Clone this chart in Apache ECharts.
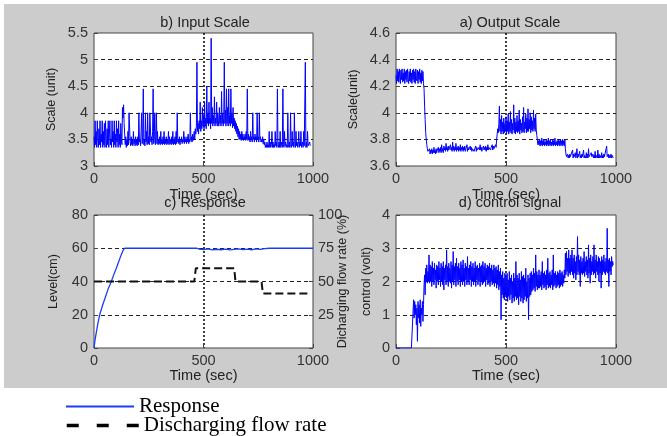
<!DOCTYPE html>
<html><head><meta charset="utf-8">
<script src="https://cdn.jsdelivr.net/npm/echarts@6/dist/echarts.min.js"></script>
<style>html,body{margin:0;padding:0;background:#fff}#c{width:667px;height:436px}</style>
</head><body><div id="c"></div>
<script>
// sampling step of the recorded signals (sec)
const STEP = 2.5;
const xTicks = [0, 500, 1000];

// b) Input Scale (unit), t = 0,2.5,...,987.5
const inputScale = [
 3.55,3.35,3.85,3.4,3.65,3.35,3.85,3.5,3.35,3.7,3.4,3.85,3.35,3.6,3.45,3.85,3.35,3.65,3.4,3.8,
 3.35,3.85,3.5,3.35,3.7,3.4,3.85,3.35,3.6,3.85,3.4,3.5,3.35,3.85,3.45,3.65,3.35,3.85,3.4,3.6,
 3.35,3.85,3.45,3.7,3.35,3.85,3.4,3.6,3.35,3.8,3.5,3.4,4.1,3.9,4.15,3.8,3.6,3.4,3.55,3.35,
 3.5,3.38,3.65,3.4,4.0,4.0,3.45,3.38,3.55,3.4,3.5,3.38,3.65,3.42,3.5,3.38,3.55,3.4,3.5,3.38,
 3.55,3.4,4.0,3.45,3.5,3.38,3.65,4.0,3.42,3.55,4.45,3.4,3.5,3.38,4.0,3.45,3.65,3.4,4.0,3.42,
 3.55,3.4,4.0,4.0,3.45,3.55,3.4,3.65,4.45,3.42,3.5,4.0,3.4,3.55,4.0,3.42,3.65,3.4,3.5,3.42,
 3.55,3.4,3.65,3.42,3.5,3.4,3.55,3.42,3.65,3.4,3.5,3.42,3.55,3.4,3.5,3.42,3.65,3.4,3.55,3.42,
 3.5,3.4,3.55,3.42,3.65,3.4,3.5,3.42,3.55,3.4,3.65,3.42,4.0,3.45,3.5,3.42,3.55,3.4,3.5,3.45,
 3.55,3.42,3.5,3.45,3.65,3.42,3.55,3.45,3.5,3.42,3.55,3.45,3.6,3.42,3.5,3.45,4.0,3.48,3.55,3.45,
 3.6,3.48,3.55,3.65,3.5,3.7,3.6,3.75,4.95,3.65,3.8,3.6,3.85,3.7,4.2,3.65,3.85,3.7,4.1,3.75,
 3.95,3.7,4.2,3.75,3.9,3.7,4.5,3.8,4.0,3.75,4.2,3.8,3.9,3.7,5.4,3.8,4.1,3.75,3.95,3.8,
 4.3,3.75,3.9,3.8,4.2,3.75,4.0,3.85,3.75,4.1,3.8,3.95,3.75,4.4,3.8,4.0,3.75,3.9,4.95,3.8,
 4.05,3.75,4.45,3.8,4.1,3.75,4.45,3.8,3.95,3.75,4.45,3.8,4.0,3.72,4.1,3.75,3.9,3.7,3.85,3.65,
 3.8,3.6,3.75,3.55,3.7,3.5,3.65,3.5,3.6,3.48,3.65,3.5,3.6,3.48,3.55,3.5,3.6,3.48,3.65,3.5,
 4.45,3.48,3.6,3.5,3.55,3.45,3.65,3.5,3.55,3.45,4.0,3.5,3.55,3.45,3.6,3.5,3.55,3.45,4.0,3.5,
 3.55,3.45,4.0,3.5,3.55,3.45,3.5,3.45,3.55,3.42,3.5,3.4,3.45,3.35,3.4,3.35,3.45,3.35,3.4,3.35,
 3.65,3.35,3.45,3.35,3.4,3.65,3.35,3.45,3.35,3.4,3.35,3.65,3.38,3.45,3.35,4.45,3.4,3.35,3.45,3.35,
 3.65,3.35,3.4,3.45,3.35,4.45,3.4,3.35,3.65,3.38,3.45,3.35,3.4,3.35,4.0,3.4,3.35,3.45,3.35,4.0,
 3.4,3.35,3.65,3.38,3.45,3.35,4.0,3.4,3.35,3.65,3.38,3.45,3.35,3.4,3.65,3.35,3.45,3.38,3.65,3.35,
 3.4,3.45,3.35,3.65,3.38,3.4,4.95,3.35,3.45,3.35,3.65,3.38,3.4,3.35,3.45,3.38
];

// a) Output Scale (unit), t = 0,2.5,...,987.5
const outputScale = [
 4.28,4.22,4.33,4.24,4.31,4.23,4.33,4.26,4.22,4.32,4.25,4.33,4.23,4.30,4.24,4.33,4.22,4.31,4.25,4.32,
 4.23,4.33,4.26,4.22,4.31,4.24,4.33,4.23,4.30,4.22,4.32,4.25,4.33,4.23,4.31,4.22,4.33,4.26,4.24,4.32,
 4.22,4.31,4.25,4.33,4.23,4.30,4.22,4.32,4.24,4.31,4.22,4.18,4.05,3.95,3.85,3.80,3.76,3.73,3.71,3.72,
 3.70,3.73,3.69,3.72,3.70,3.73,3.69,3.72,3.70,3.74,3.70,3.72,3.69,3.73,3.70,3.72,3.71,3.74,3.70,3.73,
 3.71,3.74,3.70,3.76,3.71,3.73,3.70,3.75,3.72,3.74,3.71,3.77,3.72,3.74,3.71,3.75,3.72,3.73,3.71,3.76,
 3.72,3.74,3.71,3.78,3.72,3.75,3.71,3.74,3.72,3.77,3.71,3.74,3.72,3.75,3.71,3.74,3.72,3.76,3.71,3.74,
 3.72,3.75,3.71,3.74,3.72,3.75,3.71,3.73,3.72,3.76,3.71,3.74,3.72,3.73,3.71,3.75,3.72,3.74,3.71,3.73,
 3.72,3.74,3.71,3.73,3.72,3.75,3.71,3.74,3.72,3.73,3.71,3.74,3.72,3.76,3.72,3.74,3.71,3.73,3.72,3.75,
 3.72,3.74,3.72,3.75,3.71,3.74,3.72,3.76,3.72,3.74,3.73,3.75,3.72,3.74,3.73,3.76,3.72,3.75,3.73,3.74,
 3.73,3.76,3.74,3.80,3.84,3.88,3.85,3.92,4.05,3.86,3.95,3.84,3.98,3.86,3.93,3.84,3.96,3.85,3.92,3.86,
 3.97,3.84,3.94,3.86,3.99,3.84,3.93,3.86,4.01,3.85,3.95,3.84,3.92,3.87,4.06,3.85,3.96,3.84,3.93,3.86,
 3.98,3.85,3.94,3.86,4.02,3.84,3.95,3.87,3.92,3.85,3.97,3.86,4.04,3.85,3.93,3.88,3.99,3.85,3.96,3.86,
 4.03,3.86,3.95,3.88,4.00,3.85,3.97,3.87,3.94,3.86,4.02,3.88,3.96,3.86,3.99,3.87,3.83,3.80,3.76,3.79,
 3.76,3.80,3.75,3.79,3.76,3.81,3.75,3.79,3.76,3.80,3.75,3.78,3.76,3.80,3.75,3.79,3.76,3.81,3.75,3.79,
 3.76,3.80,3.75,3.78,3.76,3.80,3.75,3.79,3.76,3.81,3.75,3.78,3.76,3.79,3.75,3.80,3.76,3.79,3.75,3.80,
 3.76,3.79,3.75,3.80,3.76,3.79,3.75,3.80,3.73,3.69,3.67,3.66,3.69,3.66,3.68,3.66,3.69,3.67,3.66,3.68,
 3.66,3.72,3.66,3.69,3.67,3.66,3.70,3.66,3.68,3.73,3.66,3.69,3.67,3.66,3.71,3.66,3.68,3.66,3.69,3.67,
 3.66,3.72,3.66,3.68,3.67,3.66,3.70,3.66,3.69,3.66,3.73,3.67,3.66,3.68,3.66,3.70,3.67,3.66,3.69,3.66,
 3.68,3.66,3.71,3.66,3.68,3.67,3.66,3.72,3.66,3.69,3.66,3.68,3.67,3.66,3.70,3.66,3.68,3.66,3.69,3.67,
 3.66,3.68,3.66,3.75,3.67,3.66,3.69,3.66,3.68,3.66,3.67,3.69,3.66,3.68,3.67,3.66
];

// d) control signal (volt), t = 0,2.5,...,987.5
const controlSignal = [
 0,0,0,0,0,0,0,0,0,0,0,0,0,0,0,0,0,0,0,0,
 0,0,0,0,0,0,0,0,0,0,0,0,1.45,0.9,1.4,1.0,1.3,0.7,1.2,0.2,
 1.4,0.9,1.3,0.75,1.45,0.65,1.2,1.0,1.4,0.8,1.3,1.9,2.2,1.6,2.4,2.0,2.5,1.95,2.3,2.0,
 2.8,1.95,2.5,2.0,2.45,1.85,2.6,2.0,2.4,1.9,2.55,2.05,2.35,1.8,2.5,2.0,2.45,1.9,2.6,2.05,
 2.4,1.85,2.55,2.0,2.45,1.9,2.6,1.75,2.4,2.05,2.5,1.9,2.95,2.0,2.45,1.85,2.55,2.0,2.4,1.95,
 2.6,1.8,2.5,2.0,2.9,1.9,2.45,2.05,2.55,1.85,2.7,2.0,2.45,1.9,2.55,2.05,2.4,1.85,2.6,2.0,
 2.5,1.9,2.65,2.0,2.4,1.85,2.55,2.05,2.45,1.9,2.75,2.0,2.4,1.9,2.5,2.05,2.6,1.85,2.45,2.0,
 2.55,1.9,2.4,2.0,2.6,1.85,2.45,2.05,2.5,1.9,2.4,2.0,2.55,1.85,2.45,2.0,2.5,1.9,2.6,1.95,
 2.45,2.0,2.55,1.85,2.4,2.05,2.5,1.9,2.45,1.95,2.55,1.85,2.4,2.0,2.5,1.9,2.35,1.95,2.5,1.85,
 2.4,1.95,2.45,1.8,2.35,1.9,2.5,1.75,2.3,1.85,2.4,0.85,2.2,1.6,2.3,1.5,2.1,1.45,2.25,1.6,
 2.15,1.5,2.25,1.4,2.05,1.55,2.3,1.45,2.1,1.6,2.2,1.35,2.0,1.5,2.25,1.4,2.1,1.55,2.6,1.45,
 2.2,1.5,2.1,1.3,2.25,1.55,2.05,1.4,2.3,1.5,2.15,1.35,2.2,1.45,2.1,1.55,2.4,1.4,2.0,1.5,
 2.2,0.85,2.1,1.55,2.25,1.6,2.3,1.7,2.2,1.75,2.4,1.8,2.25,1.7,2.8,1.85,2.3,1.75,2.2,1.8,
 2.35,1.8,2.2,1.85,2.3,1.75,2.6,1.9,2.25,1.8,2.3,1.85,2.2,1.75,2.35,1.9,2.7,1.8,2.25,1.85,
 2.3,1.8,2.2,1.9,2.35,1.75,2.8,1.85,2.25,1.9,2.3,1.8,2.2,1.85,2.3,1.9,2.25,1.8,2.35,1.85,
 2.25,1.9,2.3,1.85,2.2,1.95,2.35,2.1,2.85,2.2,2.9,2.3,2.7,2.15,2.95,2.25,2.7,2.2,2.8,2.3,
 2.95,2.2,2.7,2.1,2.8,2.25,2.6,2.05,2.75,2.2,3.35,2.3,2.8,2.2,2.65,1.85,2.75,2.25,2.6,2.2,
 2.7,2.25,2.9,2.15,2.6,2.3,2.75,2.2,2.65,2.1,3.1,2.25,2.7,1.95,2.8,2.2,2.6,2.3,2.75,2.2,
 3.1,2.25,2.65,2.1,2.8,2.3,2.6,2.2,2.75,2.0,2.7,2.25,2.6,1.8,2.75,2.2,2.65,2.3,2.8,2.25,
 2.6,2.2,2.7,2.3,3.6,2.25,2.65,1.85,2.7,2.3,2.6,2.2,2.75,2.45,2.6,2.5
];

// c) Response: level (cm)
const respTime  = [0,5,10,18,26,40,53,66,79,90,102,113,124,132,140,200,300,400,470,480,500,520,540,560,580,600,620,640,660,680,700,720,740,760,780,800,900,1000];
const respLevel = [0,5,9,15,20,26,31,36,40,44,48,52,56,58.5,60,60,60,60,60,59.5,59.2,59.6,59.0,59.4,59.1,59.5,59.0,59.3,59.6,59.2,59.5,59.1,59.6,59.3,59.8,60,60,60];
// c) Discharging flow rate (%)
const flowTime = [0,458,465,640,646,765,771,988];
const flowRate = [50,50,60,60,50,50,41,41];

const titles = ['b) Input Scale', 'a) Output Scale', 'c) Response', 'd) control signal'];

function sampled(vals) { return vals.map((v, i) => [i * STEP, v]); }
function paired(ts, vs) { return ts.map((t, i) => [t, vs[i]]); }

const FH = 'Liberation Sans';
const FV = 'Liberation Sans';
const panels = [
  {left: 94, top: 33, width: 219, height: 133},
  {left: 396, top: 33, width: 220, height: 133},
  {left: 94, top: 215, width: 219, height: 133},
  {left: 396, top: 215, width: 220, height: 133}
];
const titleCx = [200, 505, 200, 505];
const titleTop = [10, 10, 190, 190];

const tickStyle = {inside: true, length: 4, lineStyle: {color: '#444'}};
const hSplit = {show: true, showMinLine: false, showMaxLine: false, lineStyle: {color: '#222', type: [4, 3], width: 1}};
const vSplit = {show: true, showMinLine: false, showMaxLine: false, lineStyle: {color: '#111', type: [2, 2], width: 1.6}};
const lbl = {color: '#333', fontFamily: FH, fontSize: 14.5};

function yAxis(gi, min, max, interval, name, gap, extra) {
  return Object.assign({
    gridIndex: gi, type: 'value', min: min, max: max, interval: interval,
    name: name, nameLocation: 'middle', nameGap: gap, nameMoveOverlap: false,
    nameTextStyle: {fontFamily: FV, fontSize: 12.5, color: '#222'},
    axisLine: {show: false}, axisTick: tickStyle,
    axisLabel: Object.assign({margin: 6, formatter: v => String(+v.toFixed(2))}, lbl),
    splitLine: hSplit
  }, extra || {});
}

const option = {
  animation: false,
  backgroundColor: '#ffffff',
  graphic: {elements: [{type: 'rect', z: -100, shape: {x: 4, y: 4, width: 663, height: 384}, style: {fill: '#cccccc'}}]},
  title: titles.map((t, i) => ({
    text: t, left: titleCx[i], top: titleTop[i], textAlign: 'center',
    textStyle: {fontFamily: FH, fontSize: 14.5, fontWeight: 'normal', color: '#222'}
  })),
  grid: panels.map(p => Object.assign({show: true, backgroundColor: '#fff', borderColor: '#444', borderWidth: 1}, p)),
  xAxis: panels.map((p, i) => ({
    gridIndex: i, type: 'value', min: xTicks[0], max: xTicks[2], interval: xTicks[1] - xTicks[0],
    name: 'Time (sec)', nameLocation: 'middle', nameGap: i < 2 ? 21 : 19,
    nameTextStyle: {fontFamily: FH, fontSize: 14.5, color: '#222'},
    axisLine: {show: false}, axisTick: tickStyle,
    axisLabel: Object.assign({margin: 5, formatter: v => String(v)}, lbl),
    splitLine: vSplit
  })),
  yAxis: [
    yAxis(0, 3, 5.5, 0.5, 'Scale (unit)', 36),
    yAxis(1, 3.6, 4.6, 0.2, 'Scale(unit)', 36),
    yAxis(2, 0, 80, 20, 'Level(cm)', 34),
    yAxis(2, 0, 100, 25, 'Dicharging flow rate (%)', 23, {
      position: 'right', nameRotate: 90, splitLine: {show: false},
      axisLabel: Object.assign({margin: 5, formatter: v => v === 0 ? '' : String(v)}, lbl)
    }),
    yAxis(3, 0, 4, 1, 'control (volt)', 23)
  ],
  legend: [
    {left: 60, top: 391, selectedMode: false, itemWidth: 68, itemHeight: 18,
     itemStyle: {opacity: 0},
     data: [{name: 'Response'}],
     textStyle: {fontFamily: 'Liberation Serif', fontSize: 21, color: '#000'}},
    {left: 60, top: 410, selectedMode: false, itemWidth: 72, itemHeight: 18,
     itemStyle: {opacity: 0},
     data: [{name: 'Discharging flow rate', lineStyle: {type: [12, 18], width: 3.5, color: '#000'}}],
     textStyle: {fontFamily: 'Liberation Serif', fontSize: 21, color: '#000'}}
  ],
  series: [
    {name: 'Input Scale', type: 'line', xAxisIndex: 0, yAxisIndex: 0, symbol: 'none', data: sampled(inputScale),
     lineStyle: {color: '#0000ff', width: 1}, itemStyle: {color: '#0000ff'}},
    {name: 'Output Scale', type: 'line', xAxisIndex: 1, yAxisIndex: 1, symbol: 'none', data: sampled(outputScale),
     lineStyle: {color: '#0000ff', width: 1}, itemStyle: {color: '#0000ff'}},
    {name: 'Response', type: 'line', xAxisIndex: 2, yAxisIndex: 2, symbol: 'none', data: paired(respTime, respLevel),
     lineStyle: {color: '#1a3cff', width: 1.3}, itemStyle: {color: '#1a3cff'}},
    {name: 'Discharging flow rate', type: 'line', xAxisIndex: 2, yAxisIndex: 3, symbol: 'none', data: paired(flowTime, flowRate),
     lineStyle: {color: '#111', width: 2, type: [8, 4]}, itemStyle: {color: '#111'}},
    {name: 'control signal', type: 'line', xAxisIndex: 3, yAxisIndex: 4, symbol: 'none', data: sampled(controlSignal),
     lineStyle: {color: '#0000ff', width: 1}, itemStyle: {color: '#0000ff'}}
  ]
};
const chart = echarts.init(document.getElementById('c'), null, {renderer: 'canvas'});
chart.setOption(option);
</script>
</body></html>
